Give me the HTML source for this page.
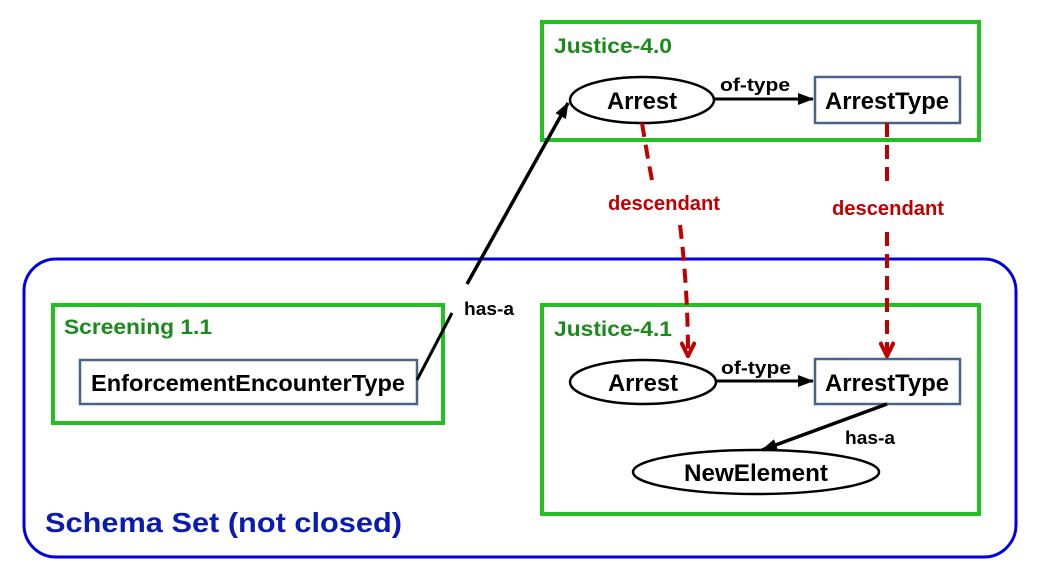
<!DOCTYPE html>
<html><head><style>body{margin:0;background:#fff}svg{display:block}text{font-family:"Liberation Sans",sans-serif;font-weight:bold}</style></head>
<body>
<svg width="1037" height="578" viewBox="0 0 1037 578" xmlns="http://www.w3.org/2000/svg">
<defs>
<marker id="ab" markerWidth="16" markerHeight="12" refX="15" refY="6" orient="auto" markerUnits="userSpaceOnUse"><path d="M0,0 L16,6 L0,12 Z" fill="#000"/></marker>
<marker id="ar" markerWidth="16" markerHeight="18" refX="8" refY="16" orient="0" markerUnits="userSpaceOnUse"><path d="M1,2 L8,16 L15,2" fill="none" stroke="#c00000" stroke-width="4"/></marker>
</defs>
<rect x="24" y="259" width="992" height="298" rx="32" fill="none" stroke="#0000e0" stroke-width="3"/>
<text x="45" y="532" font-size="28" fill="#0a1ab4" textLength="357" lengthAdjust="spacingAndGlyphs">Schema Set (not closed)</text>

<rect x="542" y="22" width="437" height="118" fill="none" stroke="#22c022" stroke-width="4"/>
<text x="554" y="53" font-size="21" fill="#1a8a1a" textLength="118" lengthAdjust="spacingAndGlyphs">Justice-4.0</text>
<ellipse cx="642" cy="100" rx="72" ry="23" fill="#fff" stroke="#000" stroke-width="2.5"/>
<text x="642" y="109" font-size="24" text-anchor="middle" textLength="70" lengthAdjust="spacingAndGlyphs">Arrest</text>
<rect x="815" y="77" width="145" height="46" fill="#fff" stroke="#4a6488" stroke-width="2.5"/>
<text x="887" y="109" font-size="24" text-anchor="middle" textLength="124" lengthAdjust="spacingAndGlyphs">ArrestType</text>
<line x1="714" y1="99" x2="813" y2="99" stroke="#000" stroke-width="3" marker-end="url(#ab)"/>
<text x="755" y="91" font-size="18" text-anchor="middle" textLength="70" lengthAdjust="spacingAndGlyphs">of-type</text>

<rect x="542" y="305" width="437" height="209" fill="none" stroke="#22c022" stroke-width="4"/>
<text x="554" y="336" font-size="21" fill="#1a8a1a" textLength="118" lengthAdjust="spacingAndGlyphs">Justice-4.1</text>
<ellipse cx="643" cy="382" rx="73" ry="22" fill="#fff" stroke="#000" stroke-width="2.5"/>
<text x="643" y="391" font-size="24" text-anchor="middle" textLength="70" lengthAdjust="spacingAndGlyphs">Arrest</text>
<rect x="815" y="359" width="145" height="45" fill="#fff" stroke="#4a6488" stroke-width="2.5"/>
<text x="887" y="391" font-size="24" text-anchor="middle" textLength="124" lengthAdjust="spacingAndGlyphs">ArrestType</text>
<line x1="715" y1="381" x2="813" y2="381" stroke="#000" stroke-width="3" marker-end="url(#ab)"/>
<text x="756" y="374" font-size="18" text-anchor="middle" textLength="70" lengthAdjust="spacingAndGlyphs">of-type</text>
<ellipse cx="756" cy="472" rx="123" ry="22" fill="#fff" stroke="#000" stroke-width="2.5"/>
<text x="756" y="481" font-size="24" text-anchor="middle" textLength="144" lengthAdjust="spacingAndGlyphs">NewElement</text>
<line x1="887" y1="404" x2="762" y2="450" stroke="#000" stroke-width="3.5" marker-end="url(#ab)"/>
<text x="870" y="444" font-size="18" text-anchor="middle" textLength="50" lengthAdjust="spacingAndGlyphs">has-a</text>

<path d="M642,123 Q648,160 652,180" fill="none" stroke="#c00000" stroke-width="4" stroke-dasharray="14,8"/>
<path d="M680,225 Q688,290 688,356" fill="none" stroke="#c00000" stroke-width="4" stroke-dasharray="14,8" marker-end="url(#ar)"/>
<text x="664" y="210" font-size="20" fill="#c00000" text-anchor="middle" textLength="112" lengthAdjust="spacingAndGlyphs">descendant</text>
<path d="M887,123 L887,185" fill="none" stroke="#c00000" stroke-width="4" stroke-dasharray="14,8"/>
<path d="M887,232 L887,356" fill="none" stroke="#c00000" stroke-width="4" stroke-dasharray="14,8" marker-end="url(#ar)"/>
<text x="888" y="215" font-size="20" fill="#c00000" text-anchor="middle" textLength="112" lengthAdjust="spacingAndGlyphs">descendant</text>

<rect x="53" y="305" width="390" height="118" fill="none" stroke="#22c022" stroke-width="4"/>
<text x="64" y="334" font-size="21" fill="#1a8a1a" textLength="148" lengthAdjust="spacingAndGlyphs">Screening 1.1</text>
<rect x="80" y="360" width="337" height="44" fill="#fff" stroke="#4a6488" stroke-width="2.5"/>
<text x="248" y="391" font-size="23" text-anchor="middle" textLength="314" lengthAdjust="spacingAndGlyphs">EnforcementEncounterType</text>

<line x1="417" y1="380" x2="452" y2="313" stroke="#000" stroke-width="3"/>
<line x1="467" y1="284" x2="568" y2="103" stroke="#000" stroke-width="3.5" marker-end="url(#ab)"/>
<text x="489" y="315" font-size="18" text-anchor="middle" textLength="50" lengthAdjust="spacingAndGlyphs">has-a</text>
</svg>
</body></html>
